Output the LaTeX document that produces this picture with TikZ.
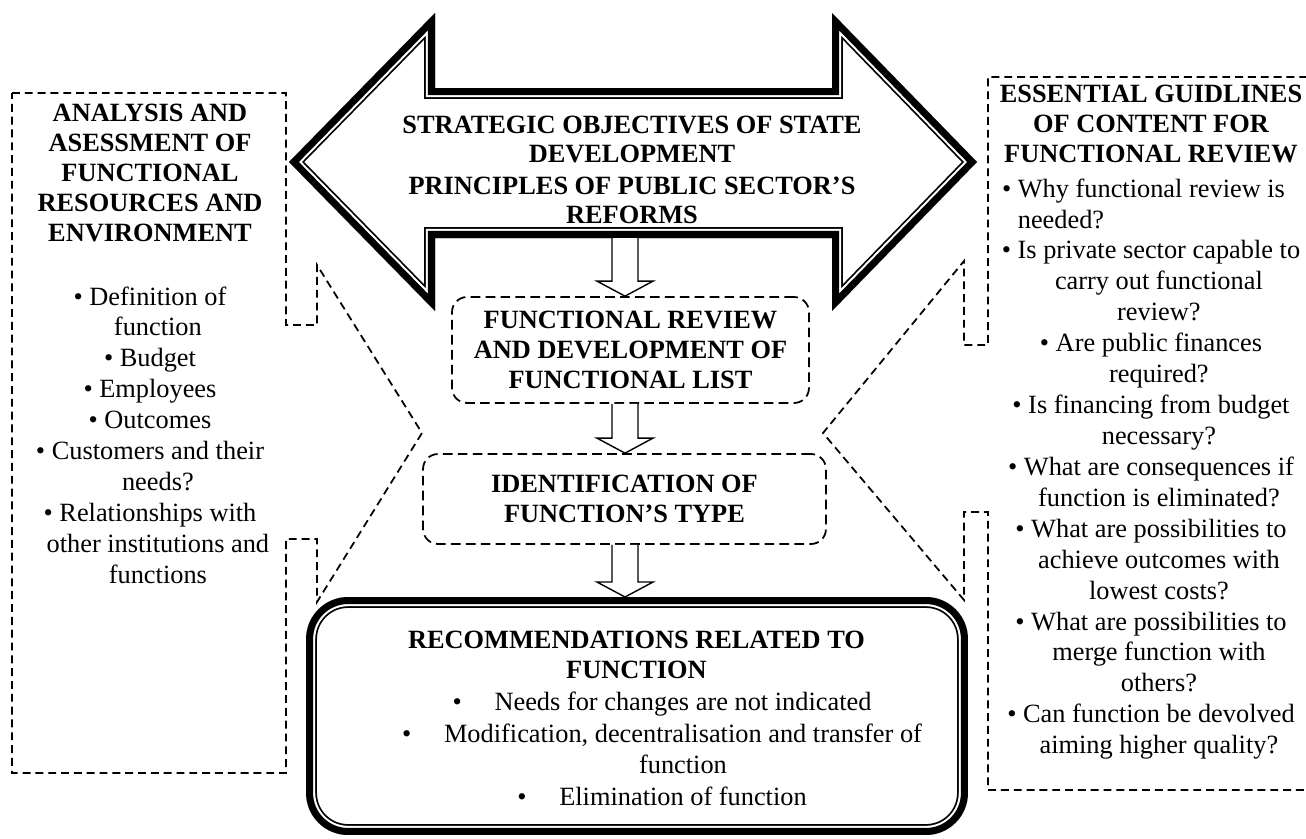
\documentclass[tikz,border=0pt]{standalone}
\usepackage{fontspec}
\setmainfont{Liberation Serif}
\usetikzlibrary{calc}

\newcommand{\bul}{\textbullet\ }
\newcommand{\cont}{\hphantom{\textbullet\ }}
\newcommand{\gapbullet}{\makebox[0.84cm][l]{\textbullet}}
\newcommand{\goalsoutline}{(289,162) -- (435,13) -- (435,88) -- (832,88) -- (832,13) -- (977,162) -- (832,311) -- (832,238) -- (435,238) -- (435,311) -- cycle}
\newcommand{\blockarrow}[2]{%
  \draw[hollow] let \p1=(#1), \p2=(#2) in
    (\x2-0.26cm,\y1) -- (\x2-0.26cm,\y2+0.3cm) -- (\x2-0.56cm,\y2+0.3cm) -- (\x2,\y2)
    -- (\x2+0.56cm,\y2+0.3cm) -- (\x2+0.26cm,\y2+0.3cm) -- (\x2+0.26cm,\y1);}

\begin{document}
\begin{tikzpicture}[x=0.02cm,y=-0.02cm,
  title/.style={font=\fontsize{15}{17.1}\selectfont\bfseries,align=center,inner sep=0pt},
  list/.style={font=\fontsize{15}{17.6}\selectfont,align=center,inner sep=0pt},
  stage/.style={draw,line width=1pt,dash pattern=on 5.5pt off 3pt,rounded corners=0.3cm,align=center,font=\fontsize{15}{17.1}\selectfont\bfseries,inner sep=0pt},
  callout/.style={line width=1pt,dash pattern=on 4.5pt off 2.8pt},
  hollow/.style={draw,line width=0.8pt,fill=white,line join=miter}
]
\useasboundingbox (0,0) rectangle (1306,839);

% side callouts
\draw[callout] (12,93) -- (286,93) -- (286,325) -- (317,325) -- (317,265) -- (422,433) -- (317,602) -- (317,539) -- (286,539) -- (286,773) -- (12,773) -- cycle;
\draw[callout] (1320,77) -- (988,77) -- (988,345) -- (964,345) -- (964,261) -- (823,433) -- (964,600) -- (964,512) -- (988,512) -- (988,790) -- (1320,790);

\node[title] (analysis) at (150,173) {ANALYSIS AND\\ASESSMENT OF\\FUNCTIONAL\\RESOURCES AND\\ENVIRONMENT};
\node[list] (analysisList) at (150,435) {\bul Definition of\\\cont function\\\bul Budget\\\bul Employees\\\bul Outcomes\\\bul Customers and their\\\cont needs?\\\bul Relationships with\\\cont other institutions and\\\cont functions};

\node[title] (guide) at (1151,124) {ESSENTIAL GUIDLINES\\OF CONTENT FOR\\FUNCTIONAL REVIEW};
\node[list] (guideList) at (1151,469) {\makebox[5.96cm][l]{\bul Why functional review is}\\\makebox[5.96cm][l]{\cont needed?}\\\bul Is private sector capable to\\\cont carry out functional\\\cont review?\\\bul Are public finances\\\cont required?\\\bul Is financing from budget\\\cont necessary?\\\bul What are consequences if\\\cont function is eliminated?\\\bul What are possibilities to\\\cont achieve outcomes with\\\cont lowest costs?\\\bul What are possibilities to\\\cont merge function with\\\cont others?\\\bul Can function be devolved\\\cont aiming higher quality?};

% double arrow on top
\begin{scope}
  \clip \goalsoutline;
  \draw[line width=12.4pt] \goalsoutline;
  \draw[white,line width=10.4pt] \goalsoutline;
  \draw[line width=8pt] \goalsoutline;
\end{scope}
\node[title,font=\fontsize{15}{16.5}\selectfont\bfseries] (goals) at (632,170) {STRATEGIC OBJECTIVES OF STATE\\DEVELOPMENT\\[2pt]PRINCIPLES OF PUBLIC SECTOR’S\\REFORMS};
\coordinate (goalsBase) at (625,238);

% middle stages
\node[stage,minimum width=7.14cm,minimum height=2.12cm] (review) at (630.5,350) {FUNCTIONAL REVIEW\\AND DEVELOPMENT OF\\FUNCTIONAL LIST};
\node[stage,minimum width=8.06cm,minimum height=1.8cm] (idtype) at (624.5,499) {IDENTIFICATION OF\\FUNCTION’S TYPE};

% recommendations
\node[minimum width=13.24cm,minimum height=4.76cm,inner sep=0pt,outer sep=0pt] (recom) at (637,716) {};
\begin{scope}
  \clip[rounded corners=0.84cm] (recom.south west) rectangle (recom.north east);
  \draw[line width=12.4pt,rounded corners=0.84cm] (recom.south west) rectangle (recom.north east);
  \draw[white,line width=10.4pt,rounded corners=0.84cm] (recom.south west) rectangle (recom.north east);
  \draw[line width=8pt,rounded corners=0.84cm] (recom.south west) rectangle (recom.north east);
\end{scope}
\node[title] (recomTitle) at (636.5,655) {RECOMMENDATIONS RELATED TO\\FUNCTION};
\node[list,font=\fontsize{15}{17.9}\selectfont] (recomList) at (662,749) {\gapbullet Needs for changes are not indicated\\\gapbullet Modification, decentralisation and transfer of\\\hspace*{0.84cm}function\\\gapbullet Elimination of function};

\blockarrow{goalsBase}{review.north -| goalsBase}
\blockarrow{review.south -| goalsBase}{idtype.north -| goalsBase}
\blockarrow{idtype.south -| goalsBase}{recom.north -| goalsBase}
\end{tikzpicture}
\end{document}
